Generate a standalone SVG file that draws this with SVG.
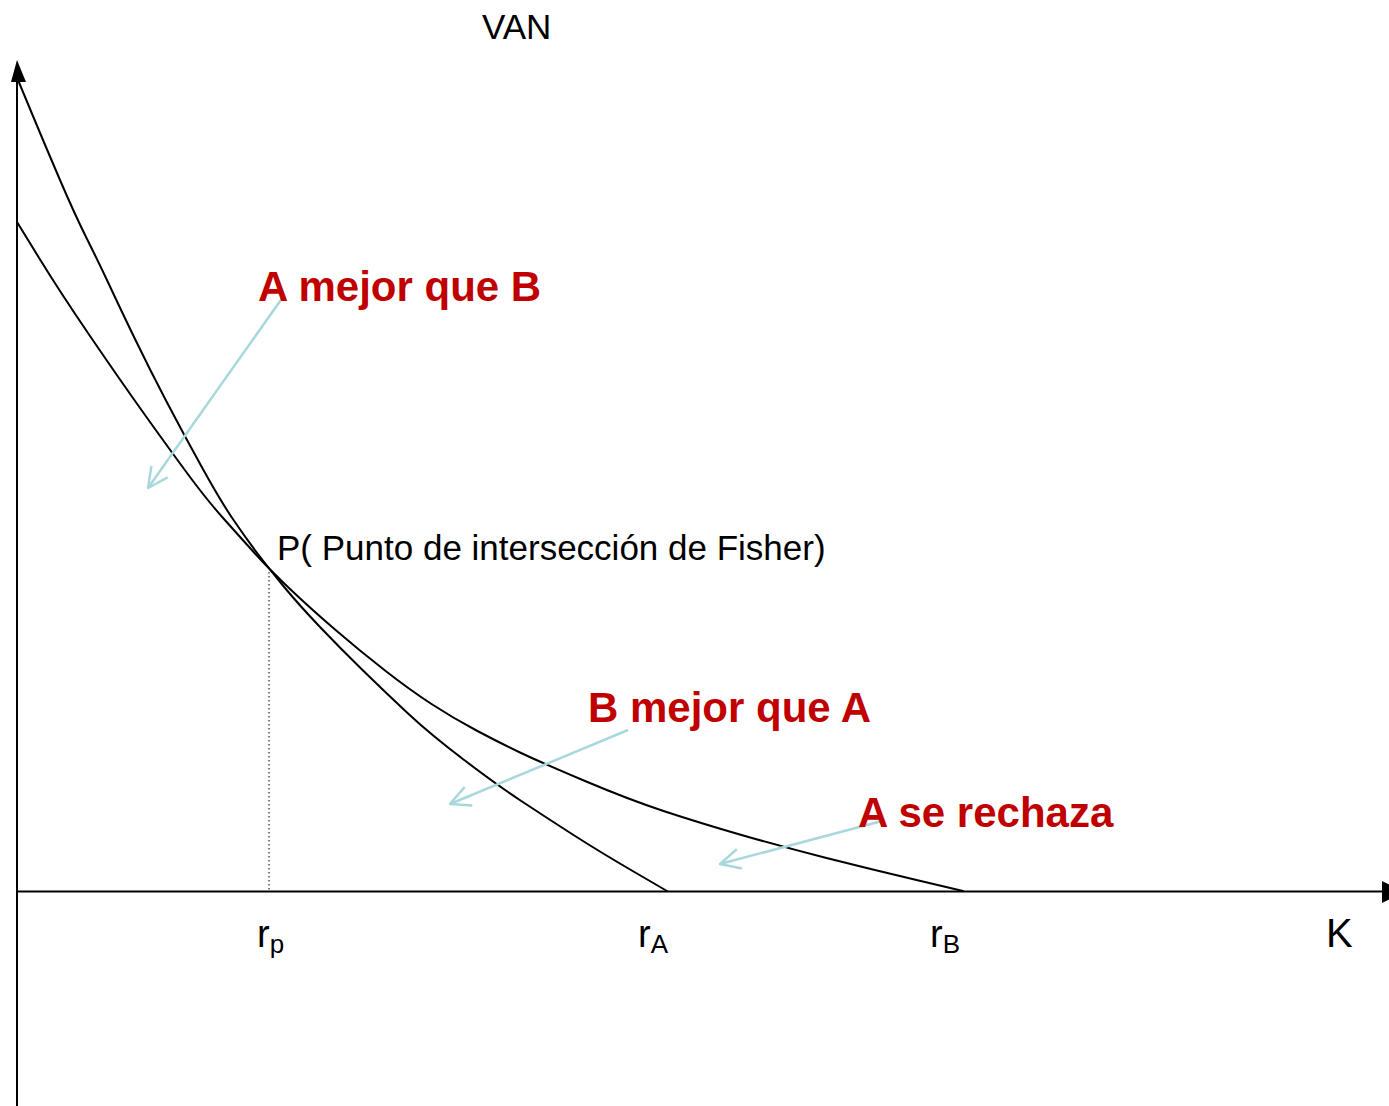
<svg xmlns="http://www.w3.org/2000/svg" width="1389" height="1106" viewBox="0 0 1389 1106">
<style>
.ax{stroke:#000;stroke-width:2;fill:none}
.cv{stroke:#000;stroke-width:2;fill:none;stroke-linejoin:round;stroke-linecap:round}
.bl{stroke:#a9d8dc;stroke-width:2.5;fill:none;marker-end:url(#oa)}
.t{font-family:"Liberation Sans",Arial,sans-serif;fill:#000}
.r{font-family:"Liberation Sans",Arial,sans-serif;font-weight:bold;fill:#c00000;font-size:42px}
</style>
<defs>
<marker id="oa" viewBox="0 0 22 22" refX="21" refY="11" markerWidth="22" markerHeight="22" markerUnits="userSpaceOnUse" orient="auto">
<path d="M1,1 L21,11 L1,21" fill="none" stroke="#a9d8dc" stroke-width="2.5"/>
</marker>
</defs>
<g id="axes">
<line class="ax" x1="17" y1="1106" x2="17" y2="75"/>
<polygon points="17,60 11,82 26,82" fill="#000"/>
<line class="ax" x1="17" y1="891.5" x2="1385" y2="891.5"/>
<polygon points="1382,881 1382,903 1404,892" fill="#000"/>
</g>
<g id="curve-A">
<path class="cv" d="M18,80 L31.5,112.5 Q45,145 60,180 Q75,215 87.5,240 Q100,265 110,286.5 Q120,308 135,339 Q150,370 166.5,401.5 Q183,433 201.5,466.5 Q220,500 232.5,518.5 Q245,537 257.5,553.5 Q270,570 285,588 Q300,606 320,627 Q340,648 362.5,670 Q385,692 407.5,713 Q430,734 463.5,759.5 Q497,785 522,801.5 Q547,818 573.5,835 Q600,852 633.5,871.5 L667,891"/>
</g>
<g id="curve-B">
<path class="cv" d="M17,222 L38.5,257 Q60,292 90,336 Q120,380 145,415 Q170,450 188.5,475 Q207,500 223.5,518.5 Q240,537 255,553.5 Q270,570 290,589 Q310,608 335,629.5 Q360,651 385,670.5 Q410,690 431.5,704 Q453,718 476.5,730.5 Q500,743 520,752.5 Q540,762 585,781 Q630,800 665,811.5 Q700,823 741.5,835 Q783,847 826.5,858 Q870,869 916.5,880 L963,891"/>
</g>
<g id="dotted">
<line x1="269" y1="572" x2="269" y2="891" stroke="#000" stroke-width="1" stroke-dasharray="1.5,2.5"/>
</g>
<g id="connectors">
<line class="bl" x1="283" y1="297" x2="148" y2="488"/>
<line class="bl" x1="628" y1="730" x2="450" y2="804"/>
<line class="bl" x1="882" y1="821" x2="720" y2="864"/>
</g>
<g id="labels">
<text class="t" x="482" y="39" font-size="35">VAN</text>
<text class="t" x="277" y="560" font-size="35">P( Punto de intersección de Fisher)</text>
<text class="t" x="1326" y="947" font-size="40">K</text>
<text class="t" x="257" y="947" font-size="38">r<tspan font-size="26" dy="6">p</tspan></text>
<text class="t" x="638" y="947" font-size="38">r<tspan font-size="26" dy="6">A</tspan></text>
<text class="t" x="930" y="947" font-size="38">r<tspan font-size="26" dy="6">B</tspan></text>
</g>
<g id="node-a-mejor">
<text class="r" x="258" y="301">A mejor que B</text>
</g>
<g id="node-b-mejor">
<text class="r" x="588" y="722">B mejor que A</text>
</g>
<g id="node-a-rechaza">
<text class="r" x="858" y="827">A se rechaza</text>
</g>
</svg>
